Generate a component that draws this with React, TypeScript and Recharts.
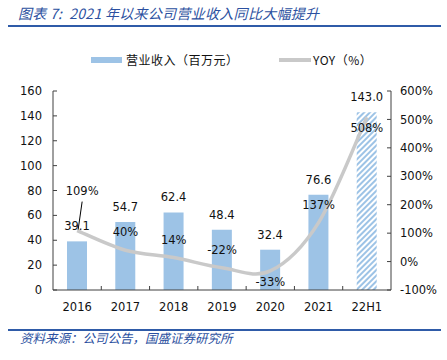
import React from 'react';
import { ComposedChart, Bar, Line, XAxis, YAxis, Cell, LabelList } from 'recharts';

const categories = ['2016', '2017', '2018', '2019', '2020', '2021', '22H1'];
const revenue = [39.1, 54.7, 62.4, 48.4, 32.4, 76.6, 143.0];
const yoy = [109, 40, 14, -22, -33, 137, 508];
const leftTicks = [0, 20, 40, 60, 80, 100, 120, 140, 160];
const rightTicks = [-100, 0, 100, 200, 300, 400, 500, 600];
const yoyLabelPlacement = ['leader', 'above', 'above', 'above', 'below', 'above', 'below'];

const titleText = '图表 7:  2021 年以来公司营业收入同比大幅提升';
const sourceText = '资料来源：公司公告，国盛证券研究所';
const revenueName = '营业收入（百万元）';
const yoyName = 'YOY（%）';

const data = categories.map((c, i) => ({ name: c, revenue: revenue[i], yoy: yoy[i] }));

const W = 447;
const H = 360;
const LEFT_W = 53;
const RIGHT_W = 56;
const PLOT_W = W - LEFT_W - RIGHT_W;
const BAND = PLOT_W / categories.length;

const BAR_COLOR = '#9DC3E6';
const LINE_COLOR = '#C9C9C9';
const AXIS_COLOR = '#404040';
const TEXT_COLOR = '#111';
const BLUE = '#2B50A0';
const NUM_FONT = '"DejaVu Sans", Verdana, sans-serif';
const CJK_FONT = '"Noto Sans CJK SC", "Noto Sans", sans-serif';

// Excel-like smoothing (Catmull-Rom style bezier)
const excelSmooth: any = (context: any) => {
  let pts: number[][] = [];
  return {
    areaStart() {},
    areaEnd() {},
    lineStart() { pts = []; },
    point(x: number, y: number) { pts.push([+x, +y]); },
    lineEnd() {
      if (!pts.length) return;
      context.moveTo(pts[0][0], pts[0][1]);
      for (let i = 0; i < pts.length - 1; i++) {
        const p0 = pts[i - 1] || pts[i];
        const p1 = pts[i];
        const p2 = pts[i + 1];
        const p3 = pts[i + 2] || p2;
        context.bezierCurveTo(
          p1[0] + (p2[0] - p0[0]) / 6, p1[1] + (p2[1] - p0[1]) / 6,
          p2[0] - (p3[0] - p1[0]) / 6, p2[1] - (p3[1] - p1[1]) / 6,
          p2[0], p2[1]
        );
      }
    },
  };
};

const XTick = (props: any) => {
  const { x, y, payload, index } = props;
  return (
    <g>
      {index > 0 && (
        <line x1={x - BAND / 2} x2={x - BAND / 2} y1={y} y2={y - 4} stroke={AXIS_COLOR} strokeWidth={1} />
      )}
      <text x={x} y={y + 21} textAnchor="middle" fontSize={11.5} fontFamily={NUM_FONT} fill={TEXT_COLOR}>
        {payload.value}
      </text>
    </g>
  );
};

const YoyLabel = (props: any) => {
  const { x, y, value, index } = props;
  const place = yoyLabelPlacement[index];
  const txt = `${value}%`;
  const common = { textAnchor: 'middle' as const, fontSize: 11.5, fontFamily: NUM_FONT, fill: TEXT_COLOR, dominantBaseline: 'central' as const };
  if (place === 'leader') {
    return (
      <g>
        <text x={x + 5} y={y - 40} {...common}>{txt}</text>
        <line x1={x + 5} y1={y - 29} x2={x + 1} y2={y - 1} stroke="#000" strokeWidth={1} />
      </g>
    );
  }
  const dy = place === 'above' ? -18 : 11;
  return <text x={x} y={y + dy} {...common}>{txt}</text>;
};

export default function App() {
  return (
    <div style={{ position: 'relative', width: W, height: H, background: '#fff', overflow: 'hidden' }}>
      <style>{'body{margin:0}'}</style>
      <div style={{ position: 'absolute', left: 18, top: 4, fontSize: 14, lineHeight: '18px', fontStyle: 'italic', color: BLUE, fontFamily: CJK_FONT, whiteSpace: 'pre', letterSpacing: 0.3 }}>
        {titleText}
      </div>
      <div style={{ position: 'absolute', left: 8, top: 25, width: 433, height: 2, background: '#2F5BA8' }} />

      <div style={{ position: 'absolute', left: 91, top: 57, width: 31, height: 6, background: BAR_COLOR }} />
      <div style={{ position: 'absolute', left: 126, top: 51, fontSize: 12, lineHeight: '18px', color: TEXT_COLOR, fontFamily: CJK_FONT, whiteSpace: 'pre', letterSpacing: 0.5 }}>
        {revenueName}
      </div>
      <div style={{ position: 'absolute', left: 279, top: 58, width: 32, height: 4, background: LINE_COLOR }} />
      <div style={{ position: 'absolute', left: 313, top: 51, fontSize: 12, lineHeight: '18px', color: TEXT_COLOR, fontFamily: CJK_FONT, whiteSpace: 'pre', letterSpacing: 0.5 }}>
        {yoyName}
      </div>

      <div style={{ position: 'absolute', left: 0, top: 0 }}>
        <ComposedChart width={W} height={H} data={data} margin={{ top: 91, right: 0, bottom: 40, left: 0 }}>
          <defs>
            <pattern id="hatch" patternUnits="userSpaceOnUse" width="4" height="4" patternTransform="rotate(45)">
              <rect width="4" height="4" fill="#fff" />
              <rect width="2" height="4" fill={BAR_COLOR} />
            </pattern>
          </defs>
          <XAxis
            dataKey="name"
            height={30}
            stroke={AXIS_COLOR}
            tickLine={false}
            tickSize={0}
            tickMargin={0}
            tick={<XTick />}
            interval={0}
          />
          <YAxis
            yAxisId="left"
            orientation="left"
            width={LEFT_W}
            domain={[0, 160]}
            ticks={leftTicks}
            interval={0}
            stroke={AXIS_COLOR}
            tickSize={-4}
            tickMargin={15}
            tick={{ fontSize: 11.5, fontFamily: NUM_FONT, fill: TEXT_COLOR }}
          />
          <YAxis
            yAxisId="right"
            orientation="right"
            width={RIGHT_W}
            domain={[-100, 600]}
            ticks={rightTicks}
            interval={0}
            stroke={AXIS_COLOR}
            tickSize={-4}
            tickMargin={13}
            tickFormatter={(v: number) => `${v}%`}
            tick={{ fontSize: 11.5, fontFamily: NUM_FONT, fill: TEXT_COLOR }}
          />
          <Bar yAxisId="left" dataKey="revenue" fill={BAR_COLOR} barSize={20} isAnimationActive={false}>
            {data.map((d, i) => (
              <Cell key={d.name} fill={i === data.length - 1 ? 'url(#hatch)' : BAR_COLOR} />
            ))}
            <LabelList
              dataKey="revenue"
              position="top"
              offset={11}
              formatter={(v: any) => Number(v).toFixed(1)}
              style={{ fontSize: 11.5, fontFamily: NUM_FONT, fill: TEXT_COLOR }}
            />
          </Bar>
          <Line
            yAxisId="right"
            dataKey="yoy"
            stroke={LINE_COLOR}
            strokeWidth={3.5}
            dot={false}
            activeDot={false}
            type={excelSmooth}
            isAnimationActive={false}
          >
            <LabelList dataKey="yoy" content={<YoyLabel />} />
          </Line>
        </ComposedChart>
      </div>

      <div style={{ position: 'absolute', left: 8, top: 329, width: 433, height: 2, background: '#2F5BA8' }} />
      <div style={{ position: 'absolute', left: 20, top: 330, fontSize: 12.5, lineHeight: '16px', fontStyle: 'italic', color: BLUE, fontFamily: CJK_FONT, whiteSpace: 'pre' }}>
        {sourceText}
      </div>
    </div>
  );
}
